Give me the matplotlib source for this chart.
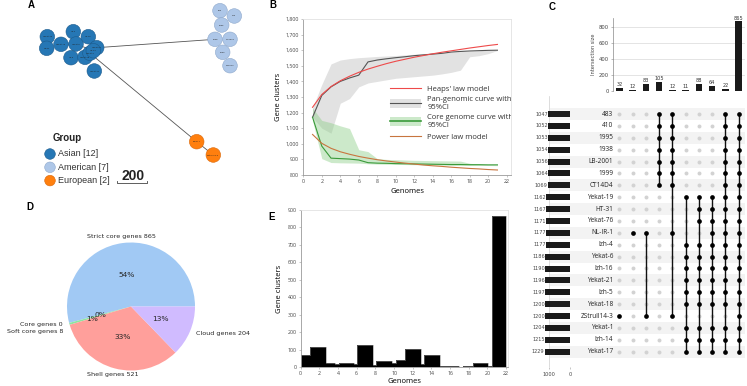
import numpy as np
import matplotlib
matplotlib.use("Agg")
import matplotlib.pyplot as plt
from matplotlib.patches import Circle, Patch
from matplotlib.lines import Line2D
from matplotlib.ticker import FuncFormatter

W, H = 747, 386

# ---------------- data ----------------
# A: genome network, node layout (pixels)
node_names = ["Yekat-19", "HT-31", "Yekat-76", "Izh-4", "Yekat-6", "Izh-16",
              "Yekat-21", "Izh-5", "Yekat-18", "Yekat-1", "Izh-14", "Yekat-17",
              "483", "410", "1995", "1938", "LB-2001", "1999", "CT14D4",
              "NL-IR-1", "ZStrull14-3"]
node_group = ["Asian"] * 12 + ["American"] * 7 + ["European"] * 2
node_x = [47.3, 46.7, 61, 73.3, 76, 88.3, 96.7, 71, 85, 90, 93.3, 94.3,
          220, 234.3, 221.7, 215, 230, 222.7, 230, 196.7, 213.3]
node_y = [36.7, 48.3, 44.3, 31.7, 44, 36.7, 47.7, 57.7, 57.3, 53.3, 50.7, 71,
          10.7, 16, 25, 39.3, 39.3, 52.3, 65.7, 141.7, 155]
edges = [(6, 15), (9, 19), (19, 20), (4, 10), (5, 10), (8, 10), (2, 4)]
groups = ["Asian", "American", "European"]

# B: pan / core genome curves
genomes = list(range(1, 22))
heaps = [1234, 1316, 1367, 1404, 1433, 1458, 1479, 1497, 1514, 1529, 1542,
         1555, 1566, 1577, 1587, 1596, 1605, 1614, 1622, 1630, 1637]
pan = [1170, 1310, 1365, 1400, 1422, 1440, 1525, 1537, 1545, 1552, 1558,
       1565, 1570, 1575, 1580, 1588, 1592, 1595, 1597, 1599, 1600]
pan_hi = [1230, 1380, 1512, 1537, 1546, 1552, 1556, 1560, 1563, 1566, 1570,
          1574, 1578, 1582, 1585, 1588, 1591, 1594, 1597, 1600, 1603]
pan_lo = [1170, 1100, 1068, 1260, 1290, 1365, 1390, 1400, 1410, 1420, 1425,
          1430, 1435, 1440, 1448, 1458, 1472, 1558, 1565, 1578, 1598]
core = [1170, 985, 908, 905, 902, 896, 879, 876, 875, 873, 872,
        871, 870, 869, 868, 867, 867, 866, 866, 865, 865]
core_hi = [1230, 1150, 1135, 1115, 1098, 962, 950, 905, 900, 898, 896,
           894, 893, 892, 891, 890, 889, 875, 870, 867, 866]
core_lo = [1150, 905, 880, 878, 877, 876, 872, 870, 869, 868, 867,
           866, 865, 864, 863, 862, 862, 861, 861, 861, 860]
power = [1060, 1003, 971, 949, 933, 919, 908, 898, 890, 883, 876,
         870, 864, 859, 855, 850, 846, 842, 839, 835, 832]

# C: upset plot
rows = ["483", "410", "1995", "1938", "LB-2001", "1999", "CT14D4", "Yekat-19",
        "HT-31", "Yekat-76", "NL-IR-1", "Izh-4", "Yekat-6", "Izh-16", "Yekat-21",
        "Izh-5", "Yekat-18", "ZStrull14-3", "Yekat-1", "Izh-14", "Yekat-17"]
row_sizes = [1047, 1052, 1053, 1054, 1056, 1064, 1069, 1162, 1167, 1171, 1177,
             1177, 1186, 1190, 1196, 1197, 1200, 1200, 1204, 1215, 1229]
inter_sizes = [32, 12, 83, 105, 12, 11, 88, 64, 22, 865]
american = rows[:7]
asian = [n for n, g in zip(node_names, node_group) if g == "Asian"]
european = ["NL-IR-1", "ZStrull14-3"]
inter_sets = [["ZStrull14-3"], ["NL-IR-1"], european, american,
              american + european,
              [n for n in asian if n not in ("HT-31", "Yekat-76")],
              asian, asian + ["NL-IR-1"],
              [n for n in rows if n != "ZStrull14-3"], rows]

# D: gene categories
pie_names = ["Strict core genes", "Core genes", "Soft core genes",
             "Shell genes", "Cloud genes"]
pie_values = [865, 0, 8, 521, 204]

# E: gene clusters per number of genomes
genome_counts = [70, 113, 21, 18, 23, 15, 125, 11, 36, 22, 39,
                 104, 18, 69, 5, 6, 2, 6, 22, 8, 865]
bin_edges = [0, 1.0, 2.7, 3.65, 4.05, 5.7, 6.05, 7.75, 8.1, 9.8, 10.2,
             11.2, 12.85, 13.25, 14.9, 15.3, 17.0, 17.35, 18.4, 20.05, 20.45, 22]

# ---------------- figure ----------------
fig = plt.figure(figsize=(W / 100, H / 100), dpi=100)


def px_axes(x0, y0, x1, y1):
    # axes placed by a pixel box, origin top-left
    return fig.add_axes([x0 / W, 1 - y1 / H, (x1 - x0) / W, (y1 - y0) / H])


def letter(x, y, s):
    fig.text(x / W, 1 - y / H, s, fontsize=7, weight="bold",
             family="Liberation Sans", ha="center", va="center")


sans = "Open Sans"

# ---- A
ax_a = px_axes(0, 0, 250, 200)
ax_a.set_xlim(0, 250)
ax_a.set_ylim(200, 0)
ax_a.axis("off")
fc = {"Asian": "#2677b5", "American": "#aec7e8", "European": "#ff7f0e"}
ec = {"Asian": "#1b5a8c", "American": "#8fa9cc", "European": "#d9680a"}
for i, j in edges:
    ax_a.plot([node_x[i], node_x[j]], [node_y[i], node_y[j]],
              color="#555555", lw=0.6, zorder=1)
for x, y, g, n in zip(node_x, node_y, node_group, node_names):
    ax_a.add_patch(Circle((x, y), 7.3, fc=fc[g], ec=ec[g], lw=0.4, zorder=2))
    ax_a.text(x, y, n, fontsize=1.5, ha="center", va="center",
              color="#222222", zorder=3)
ax_a.text(52.7, 137.7, "Group", fontsize=7, weight="bold",
          family="Liberation Sans", va="center", color="#222222")
for k, g in enumerate(groups):
    yy = 154 + k * 13.3
    ax_a.add_patch(Circle((50, yy), 5.3, fc=fc[g], ec=ec[g], lw=0.4))
    ax_a.text(58.3, yy, f"{g} [{node_group.count(g)}]", fontsize=6.5,
              family="Liberation Sans", va="center", color="#333333")
ax_a.text(133, 176.5, "200", fontsize=10, weight="bold",
          family="Liberation Sans", ha="center", va="center", color="#222222")
ax_a.plot([117, 117, 146.7, 146.7], [181.5, 183, 183, 181.5],
          color="#444444", lw=0.6)
letter(30.8, 5, "A")

# ---- B
ax_b = px_axes(303.3, 19, 511.3, 175)
ax_b.fill_between(genomes, pan_lo, pan_hi, color="#bfbfbf", alpha=0.45, lw=0)
ax_b.fill_between(genomes, core_lo, core_hi, color="#8fd08a", alpha=0.45, lw=0)
ax_b.plot(genomes, pan, color="#555555", lw=0.8)
ax_b.plot(genomes, core, color="#3a9a3a", lw=0.8)
ax_b.plot(genomes, power, color="#c8753f", lw=0.8)
ax_b.plot(genomes, heaps, color="#ee4a4a", lw=0.8)
ax_b.set_xlim(0, 22.5)
ax_b.set_ylim(800, 1800)
ax_b.set_xticks(range(0, 23, 2))
ax_b.set_yticks(range(800, 1801, 100))
ax_b.yaxis.set_major_formatter(FuncFormatter(lambda v, p: f"{int(v):,}"))
ax_b.set_xlabel("Genomes", fontsize=5.5, family=sans, labelpad=3)
ax_b.set_ylabel("Gene clusters", fontsize=5.5, family=sans, labelpad=3)
handles = [Line2D([], [], color="#ee4a4a", lw=0.8),
           (Patch(fc="#bfbfbf", alpha=0.45, lw=0), Line2D([], [], color="#555555", lw=0.8)),
           (Patch(fc="#8fd08a", alpha=0.45, lw=0), Line2D([], [], color="#3a9a3a", lw=1.2)),
           Line2D([], [], color="#c8753f", lw=0.8)]
labels = ["Heaps' law model", "Pan-genomic curve with\n95%CI",
          "Core genome curve with\n95%CI", "Power law model"]
leg = ax_b.legend(handles, labels, loc="upper left", bbox_to_anchor=(0.417, 0.583),
                  frameon=False, prop={"family": sans, "size": 5.5},
                  handlelength=4, handleheight=1.4, handletextpad=0.9,
                  labelspacing=0.4, borderpad=0, borderaxespad=0)
for t in leg.get_texts():
    t.set_color("#333333")
    t.set_clip_box(ax_b.bbox)
    t.set_clip_on(True)
letter(273, 5, "B")

# ---- E
ax_e = px_axes(300.7, 210, 508, 367)
ax_e.stairs(genome_counts, bin_edges, fill=True, color="black")
ax_e.stairs(genome_counts, bin_edges, color="#888888", lw=0.4)
ax_e.set_xlim(0, 22.2)
ax_e.set_ylim(0, 900)
ax_e.set_xticks(range(0, 23, 2))
ax_e.set_yticks(range(0, 901, 100))
ax_e.set_xlabel("Genomes", fontsize=5.5, family=sans, labelpad=1)
ax_e.set_ylabel("Gene clusters", fontsize=5.5, family=sans, labelpad=3)
letter(272, 216.5, "E")

for ax in (ax_b, ax_e):
    for side in ("top", "right"):
        ax.spines[side].set_color("#e2e2e2")
    for side in ("left", "bottom"):
        ax.spines[side].set_color("#9a9a9a")
    for s in ax.spines.values():
        s.set_linewidth(0.6)
    ax.tick_params(labelsize=3.8, length=1.5, width=0.4, pad=1.5,
                   color="#9a9a9a", labelcolor="#444444")
    for lab in ax.get_xticklabels() + ax.get_yticklabels():
        lab.set_family(sans)

# ---- D
ax_d = px_axes(51, 226.5, 211, 386.5)
pastel = ["#a1c9f4", "#ffb482", "#8de5a1", "#ff9f9b", "#d0bbff"]
wedges, texts, autotexts = ax_d.pie(
    pie_values, labels=[f"{n} {v}" for n, v in zip(pie_names, pie_values)],
    colors=pastel, autopct="%1.0f%%", pctdistance=0.5, labeldistance=1.1,
    textprops={"fontsize": 4.6, "color": "#262626"})
ax_d.set_xlim(-1.25, 1.25)
ax_d.set_ylim(-1.25, 1.25)
texts[0].set_ha("center")
texts[3].set_ha("center")
tx, ty = texts[2].get_position()
texts[2].set_position((tx, ty - 0.09))
for t in autotexts:
    t.set_fontsize(5.4)
autotexts[2].set_position((-0.61, -0.2))
letter(30, 206.5, "D")

# ---- C: intersection bars
ax_c = px_axes(612.7, 18.3, 745.3, 90.7)
xs = np.arange(len(inter_sizes))
ax_c.bar(xs, inter_sizes, width=0.5, color="#1a1a1a", zorder=3)
for x, v in zip(xs, inter_sizes):
    ax_c.text(x, v + 12, str(v), ha="center", va="bottom", fontsize=3.6,
              color="#333333")
ax_c.set_xlim(-0.5, 9.5)
ax_c.set_ylim(0, 905)
ax_c.set_xticks([])
ax_c.set_yticks(range(0, 801, 200))
ax_c.grid(axis="y", color="#d9d9d9", lw=0.5)
for side in ("top", "right", "bottom"):
    ax_c.spines[side].set_visible(False)
ax_c.spines["left"].set_color("#888888")
ax_c.spines["left"].set_linewidth(0.5)
ax_c.tick_params(labelsize=3.8, length=1.5, width=0.4, pad=1, color="#888888",
                 labelcolor="#444444")
ax_c.set_ylabel("Intersection size", fontsize=3.6, color="#444444", labelpad=2)
letter(552, 6.5, "C")

# ---- C: matrix
nr = len(rows)
ax_m = px_axes(550, 108.1, 745.3, 357.6)
ax_m.set_xlim(-0.5 - (612.7 - 550) / 13.26, 9.5)
ax_m.set_ylim(nr - 0.5, -0.5)
ax_m.axis("off")
for r in range(0, nr, 2):
    ax_m.axhspan(r - 0.5, r + 0.5, color="#f3f3f3", lw=0, zorder=0)
ridx = np.arange(nr)
for j, members in enumerate(inter_sets):
    on = np.isin(rows, members)
    ax_m.scatter(np.full((~on).sum(), j), ridx[~on], s=8, c="#d2d2d2", lw=0, zorder=2)
    ax_m.scatter(np.full(on.sum(), j), ridx[on], s=11.5, c="black", lw=0, zorder=4)
    if on.sum() > 1:
        ax_m.plot([j, j], [ridx[on].min(), ridx[on].max()], color="#111111",
                  lw=1.0, zorder=3)
for r, name in enumerate(rows):
    ax_m.text(-0.45, r, name, ha="right", va="center", fontsize=4.7,
              family=sans, color="#222222")

# ---- C: set sizes
ax_s = px_axes(545, 96.2, 570, 367.2)
ax_s.set_facecolor("none")
ax_s.barh(ridx, row_sizes, height=0.5, color="#1a1a1a", zorder=3)
for r, v in zip(ridx, row_sizes):
    ax_s.text(v + 5, r, str(v), ha="right", va="center", fontsize=3.6,
              color="#444444")
ax_s.set_xlim(1208, 0)
ax_s.set_ylim(nr - 0.5 + 0.8, -1.5)
ax_s.set_xticks([1000, 0])
ax_s.set_yticks([])
ax_s.grid(axis="x", color="#cfcfcf", lw=0.5)
for s in ax_s.spines.values():
    s.set_visible(False)
ax_s.tick_params(labelsize=3.6, length=1.5, width=0.4, pad=2, color="#999999",
                 labelcolor="#444444")

fig.savefig("out.png", dpi=100)
